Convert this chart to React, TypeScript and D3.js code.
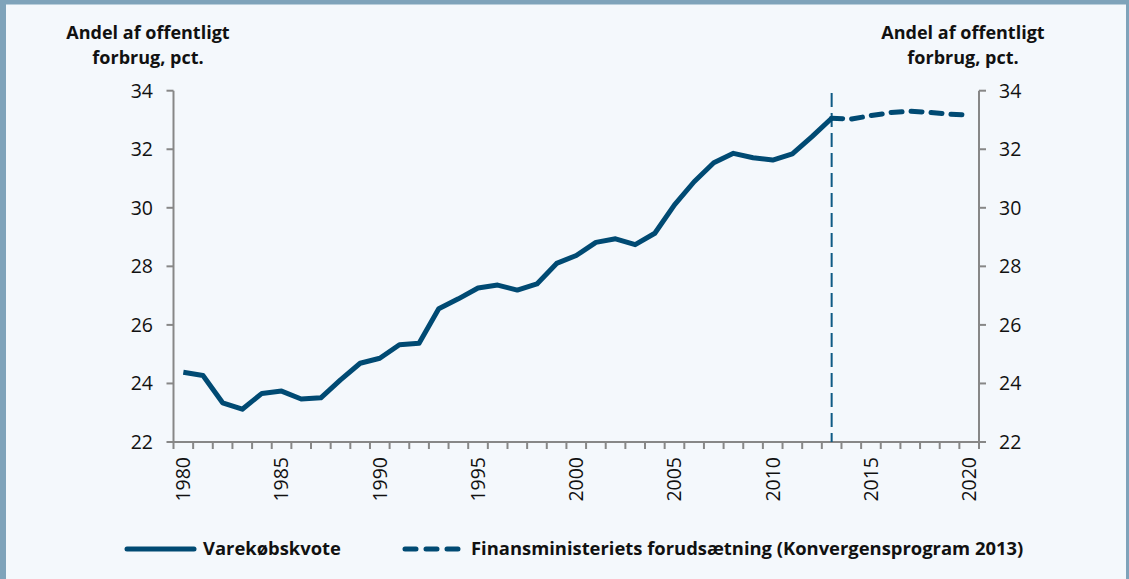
import React from "react";
import * as d3 from "d3";

// Varekøbskvote, historisk
const years = d3.range(1980, 2021);
const histYears = d3.range(1980, 2014);
const histValues = [
  24.38, 24.27, 23.34, 23.12, 23.66, 23.74, 23.47, 23.51, 24.12, 24.69,
  24.86, 25.32, 25.37, 26.55, 26.89, 27.26, 27.36, 27.19, 27.4, 28.1,
  28.37, 28.82, 28.94, 28.74, 29.13, 30.1, 30.89, 31.54, 31.86, 31.71,
  31.63, 31.84, 32.43, 33.06,
];
// Finansministeriets forudsætning
const projYears = d3.range(2013, 2021);
const projValues = [33.06, 33.03, 33.15, 33.25, 33.3, 33.26, 33.2, 33.16];

const yTicks = [22, 24, 26, 28, 30, 32, 34];
const xLabels = [1980, 1985, 1990, 1995, 2000, 2005, 2010, 2015, 2020];
const axisTitle = ["Andel af offentligt", "forbrug, pct."];
const legendLabels = [
  "Varekøbskvote",
  "Finansministeriets forudsætning (Konvergensprogram 2013)",
];
const splitYear = 2013;

const W = 1129;
const H = 579;
const left = 173.5;
const right = 979;
const top = 90.7;
const bottom = 442;
const lineColor = "#004a73";
const axisColor = "#878787";
const font = "'Open Sans', Lato, sans-serif";

export default function App() {
  const x = d3.scaleBand<number>().domain(years).range([left, right]).padding(0);
  const cx = (yr: number) => (x(yr) as number) + x.bandwidth() / 2;
  const y = d3.scaleLinear().domain([22, 34]).range([bottom, top]);

  const path = d3
    .line<[number, number]>()
    .x((d) => cx(d[0]))
    .y((d) => y(d[1]));
  const histPath = path(histYears.map((yr, i) => [yr, histValues[i]]));
  const projPath = path(projYears.map((yr, i) => [yr, projValues[i]]));

  const boundaries = years.map((yr) => x(yr) as number).concat([right]);

  return (
    <svg
      width={W}
      height={H}
      style={{ position: "absolute", left: 0, top: 0, display: "block" }}
      fontFamily={font}
    >
      <rect x={0} y={0} width={W} height={H} fill="#f4f8fc" />
      <rect x={0} y={0} width={W} height={4.5} fill="#7fa3ba" />
      <rect x={0} y={0} width={6} height={H} fill="#7fa3ba" />
      <rect x={W - 3} y={0} width={3} height={H} fill="#7fa3ba" />

      {/* axis titles */}
      {[148, 963].map((tx) => (
        <text key={tx} x={tx} textAnchor="middle" fontWeight={700} fontSize={18} fill="#111">
          <tspan x={tx} y={39}>{axisTitle[0]}</tspan>
          <tspan x={tx} y={64}>{axisTitle[1]}</tspan>
        </text>
      ))}

      {/* y axes */}
      <line x1={left} x2={left} y1={top} y2={bottom} stroke={axisColor} strokeWidth={2} />
      <line x1={right} x2={right} y1={top} y2={bottom} stroke={axisColor} strokeWidth={2} />
      {yTicks.map((t) => (
        <g key={t}>
          <line x1={left - 7} x2={left} y1={y(t)} y2={y(t)} stroke={axisColor} strokeWidth={2} />
          <line x1={right} x2={right + 7} y1={y(t)} y2={y(t)} stroke={axisColor} strokeWidth={2} />
          <text x={153} y={y(t)} dy="0.35em" textAnchor="end" fontSize={19.5} fill="#111">
            {t}
          </text>
          <text x={999} y={y(t)} dy="0.35em" textAnchor="start" fontSize={19.5} fill="#111">
            {t}
          </text>
        </g>
      ))}

      {/* x axis */}
      <line x1={left} x2={right} y1={bottom} y2={bottom} stroke={axisColor} strokeWidth={2} />
      {boundaries.map((bx, i) => (
        <line key={i} x1={bx} x2={bx} y1={bottom} y2={bottom + 7} stroke={axisColor} strokeWidth={2} />
      ))}
      {xLabels.map((yr) => (
        <text
          key={yr}
          transform={`translate(${cx(yr)},${457}) rotate(-90)`}
          dy="0.35em"
          textAnchor="end"
          fontSize={19.5}
          fill="#111"
        >
          {yr}
        </text>
      ))}

      {/* split marker */}
      <line
        x1={cx(splitYear)}
        x2={cx(splitYear)}
        y1={93}
        y2={bottom}
        stroke="#0f5a85"
        strokeWidth={2}
        strokeDasharray="14 6"
      />

      {/* series */}
      <path
        d={projPath || ""}
        fill="none"
        stroke={lineColor}
        strokeWidth={5}
        strokeLinecap="round"
        strokeDasharray="11 9"
      />
      <path
        d={histPath || ""}
        fill="none"
        stroke={lineColor}
        strokeWidth={5}
        strokeLinejoin="round"
      />

      {/* legend */}
      <line x1={127} x2={194} y1={549} y2={549} stroke={lineColor} strokeWidth={5} strokeLinecap="round" />
      <text x={203} y={549} dy="0.35em" fontSize={18.4} fontWeight={700} fill="#111">
        {legendLabels[0]}
      </text>
      <line
        x1={405}
        x2={462}
        y1={549}
        y2={549}
        stroke={lineColor}
        strokeWidth={5}
        strokeLinecap="round"
        strokeDasharray="11 10"
      />
      <text x={471} y={549} dy="0.35em" fontSize={18.4} fontWeight={700} fill="#111">
        {legendLabels[1]}
      </text>
    </svg>
  );
}
